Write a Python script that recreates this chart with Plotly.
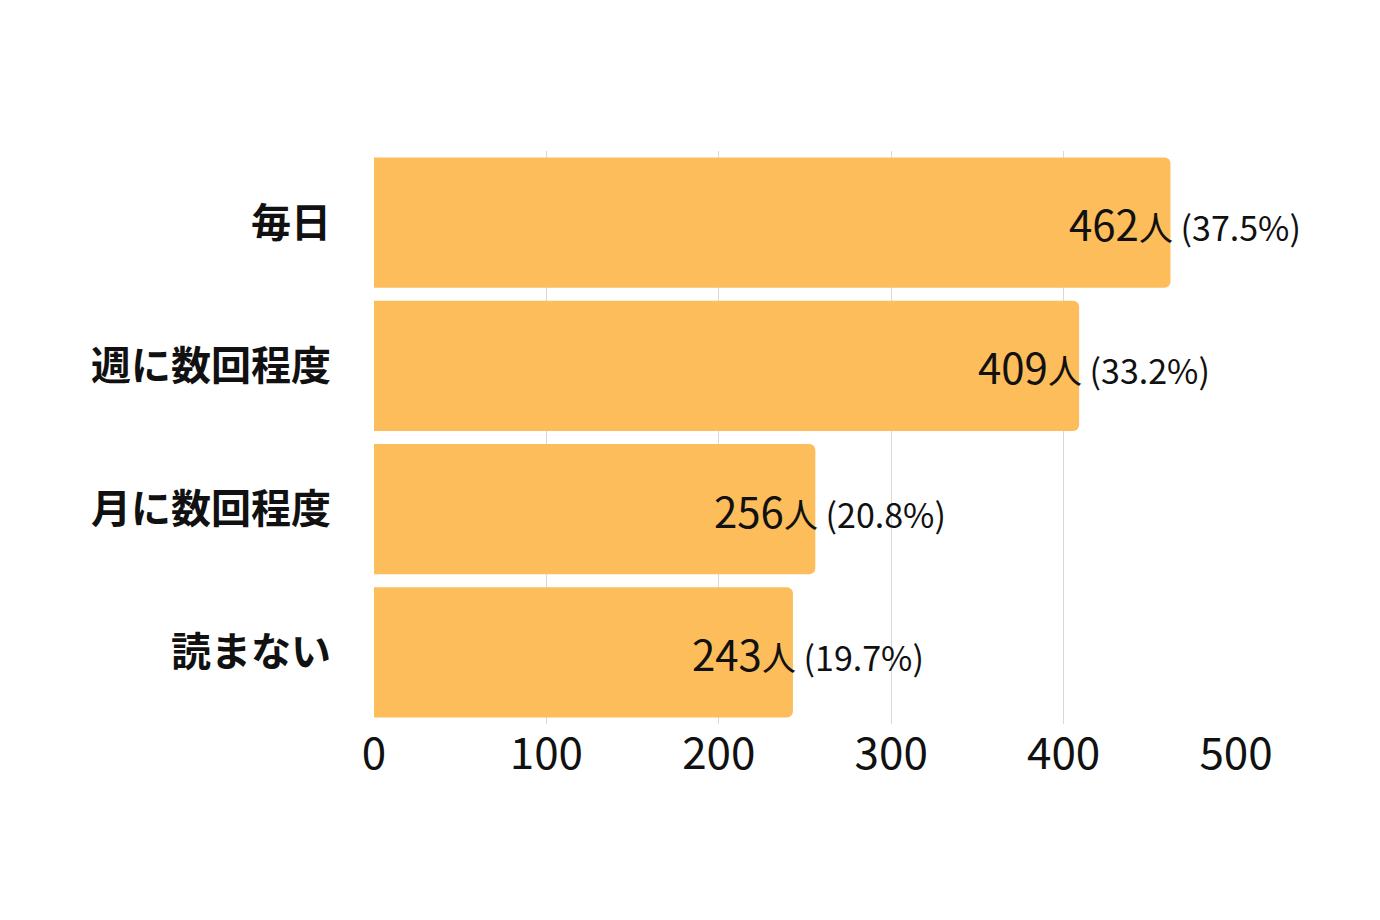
import plotly.graph_objects as go

categories = ["毎日", "週に数回程度", "月に数回程度", "読まない"]
counts = [462, 409, 256, 243]
percents = ["37.5%", "33.2%", "20.8%", "19.7%"]
xticks = [0, 100, 200, 300, 400, 500]

font = "Noto Sans CJK JP"
fig = go.Figure(go.Bar(
    y=categories, x=counts, orientation="h",
    marker=dict(color="#FDBD5B", cornerradius=6, line=dict(width=0)),
))
for c, v, p in zip(categories, counts, percents):
    fig.add_annotation(
        x=v, y=c, xanchor="left", xshift=-103, showarrow=False,
        text=f"<span style='font-size:42px'>{v}</span><span style='font-size:34px'>人 ({p})</span>",
        font=dict(family=font, color="#111111"),
    )
fig.update_layout(
    width=1380, height=920, paper_bgcolor="white", plot_bgcolor="white",
    margin=dict(l=366, r=152, t=143, b=204),
    bargap=0.09, showlegend=False,
    font=dict(family=font, color="#111111"),
    xaxis=dict(range=[0, 500], tickvals=xticks, showgrid=True, gridcolor="#D9D9D9",
               gridwidth=1, zeroline=False, tickfont=dict(size=44), ticks="", showline=False),
    yaxis=dict(autorange="reversed", tickfont=dict(size=40, family=font),
               ticks="outside", ticklen=34, tickcolor="white", showline=False),
)
fig.update_yaxes(tickprefix="<b>", ticksuffix="</b>")
fig.write_html("out.html")
